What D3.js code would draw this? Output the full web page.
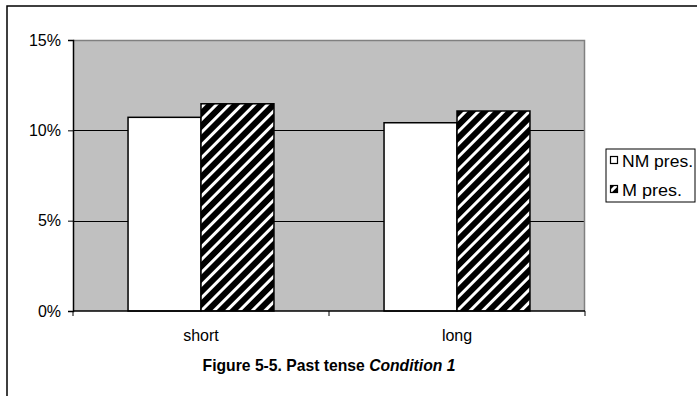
<!DOCTYPE html>
<html>
<head>
<meta charset="utf-8">
<script src="https://cdn.jsdelivr.net/npm/d3@7"></script>
<style>
  body { margin: 0; background: #fff; }
  svg { display: block; font-family: "Liberation Sans", Arial, sans-serif; }
</style>
</head>
<body>
<div id="container"></div>
<script>
const categories = ["short", "long"]
const series = ["NM pres.", "M pres."]
const nmValues = [0.1072, 0.1042]
const mValues = [0.1147, 0.1107]
const yTicks = [0, 0.05, 0.10, 0.15]
const title = "Figure 5-5. Past tense "
const titleItalic = "Condition 1"

const width = 697
const height = 396
const margin = {top: 40, right: 112, bottom: 85, left: 73}

const data = categories.map((c, i) => ({category: c, values: [nmValues[i], mValues[i]]}))

const svg = d3.select("#container").append("svg")
    .attr("width", width)
    .attr("height", height)

// hatch pattern for the M series
const defs = svg.append("defs")
const pat = defs.append("pattern")
    .attr("id", "hatch")
    .attr("patternUnits", "userSpaceOnUse")
    .attr("width", 9)
    .attr("height", 9)
    .attr("patternTransform", "rotate(45)")
pat.append("rect").attr("width", 9).attr("height", 9).attr("fill", "#000")
pat.append("rect").attr("x", 0).attr("width", 3).attr("height", 9).attr("fill", "#fff")

// outer frame
svg.append("rect")
    .attr("x", 7).attr("y", 6)
    .attr("width", 720).attr("height", 420)
    .attr("fill", "none")
    .attr("stroke", "#000")
    .attr("stroke-width", 1.5)

const x0 = d3.scaleBand()
    .domain(categories)
    .range([margin.left, width - margin.right])
    .paddingInner(0.43)
    .paddingOuter(0.215)

const x1 = d3.scaleBand()
    .domain(series)
    .range([0, x0.bandwidth()])

const y = d3.scaleLinear()
    .domain([0, 0.15])
    .range([height - margin.bottom, margin.top])

const fills = ["#fff", "url(#hatch)"]

// plot area
svg.append("rect")
    .attr("x", margin.left)
    .attr("y", margin.top)
    .attr("width", width - margin.left - margin.right)
    .attr("height", y(0) - margin.top)
    .attr("fill", "#c0c0c0")

// gridlines
svg.append("g")
    .selectAll("line")
    .data(yTicks.filter(d => d > 0 && d < 0.15))
    .join("line")
    .attr("x1", margin.left)
    .attr("x2", width - margin.right)
    .attr("y1", d => Math.round(y(d)) + 0.5)
    .attr("y2", d => Math.round(y(d)) + 0.5)
    .attr("stroke", "#000")

// plot border top + right (gray)
svg.append("path")
    .attr("d", `M${margin.left},${margin.top + 0.5}H${width - margin.right - 0.5}V${y(0)}`)
    .attr("fill", "none")
    .attr("stroke", "#808080")
    .attr("stroke-width", 1.5)

// bars
const groups = svg.append("g")
    .selectAll("g")
    .data(data)
    .join("g")
    .attr("transform", d => `translate(${x0(d.category)},0)`)

groups.selectAll("rect")
    .data(d => d.values.map((v, i) => ({key: series[i], value: v, i})))
    .join("rect")
    .attr("x", d => x1(d.key))
    .attr("y", d => y(d.value))
    .attr("width", x1.bandwidth())
    .attr("height", d => y(0) - y(d.value))
    .attr("fill", d => fills[d.i])
    .attr("stroke", "#000")
    .attr("stroke-width", 1.5)

// y axis
const yAxis = svg.append("g")
    .attr("transform", `translate(${margin.left},0)`)
    .call(d3.axisLeft(y).tickValues(yTicks).tickFormat(d3.format(".0%")).tickSize(5).tickPadding(7))
yAxis.select(".domain").attr("stroke", "#000").attr("stroke-width", 1.5)
yAxis.selectAll("text").attr("font-size", 16).attr("fill", "#000").attr("font-family", null)

// x axis
const xAxis = svg.append("g")
    .attr("transform", `translate(0,${y(0)})`)
xAxis.append("line")
    .attr("x1", margin.left).attr("x2", width - margin.right)
    .attr("stroke", "#000").attr("stroke-width", 1.5)
const xBounds = [margin.left, ...categories.map(c => x0(c) + x0.bandwidth() + x0.step() * 0.215)]
xAxis.selectAll(".sep")
    .data(xBounds)
    .join("line")
    .attr("class", "sep")
    .attr("x1", d => d).attr("x2", d => d)
    .attr("y1", 0).attr("y2", 5)
    .attr("stroke", "#000")
xAxis.selectAll(".cat")
    .data(categories)
    .join("text")
    .attr("class", "cat")
    .attr("x", d => x0(d) + x0.bandwidth() / 2)
    .attr("y", 30)
    .attr("text-anchor", "middle")
    .attr("font-size", 16)
    .text(d => d)

// title
const t = svg.append("text")
    .attr("x", margin.left + (width - margin.left - margin.right) / 2)
    .attr("y", 371)
    .attr("text-anchor", "middle")
    .attr("font-size", 15.7)
    .attr("font-weight", "bold")
t.append("tspan").text(title)
t.append("tspan").attr("font-style", "italic").text(titleItalic)

// legend
const legend = svg.append("g").attr("transform", "translate(606,149)")
legend.append("rect")
    .attr("width", 89).attr("height", 53)
    .attr("fill", "#fff").attr("stroke", "#000")
const items = legend.selectAll(".item")
    .data(series)
    .join("g")
    .attr("class", "item")
    .attr("transform", (d, i) => `translate(4,${12 + i * 29})`)
items.append("rect")
    .attr("x", 0.5).attr("y", -4.5)
    .attr("width", 7).attr("height", 7)
    .attr("fill", (d, i) => fills[i])
    .attr("stroke", "#000")
    .attr("stroke-width", 1.2)
items.append("text")
    .attr("x", 12)
    .attr("y", 5.5)
    .attr("font-size", 16)
    .attr("textLength", (d, i) => [71, 60][i])
    .attr("lengthAdjust", "spacingAndGlyphs")
    .text(d => d)
</script>
</body>
</html>
